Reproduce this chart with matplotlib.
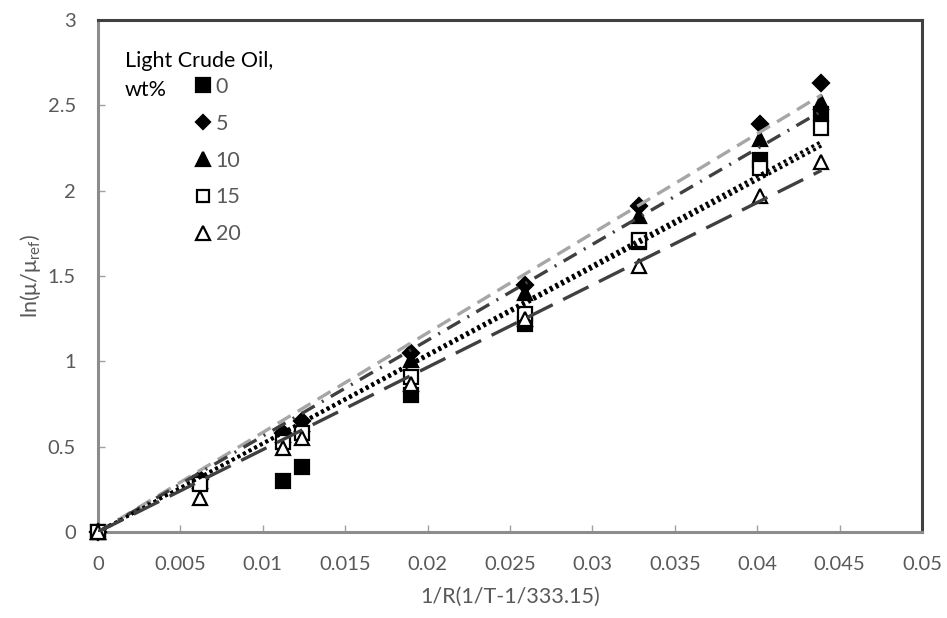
import numpy as np
import matplotlib
matplotlib.use("Agg")
import matplotlib.pyplot as plt
from matplotlib.lines import Line2D

plt.rcParams['font.family'] = ['Lato', 'DejaVu Sans']
plt.rcParams['mathtext.fontset'] = 'custom'
plt.rcParams['mathtext.rm'] = 'Lato'

# x = 1/R(1/T-1/333.15)
x_vals = [0, 0.0062, 0.0112, 0.0124, 0.0190, 0.0259, 0.0328, 0.0402, 0.0439]

# ln(mu/mu_ref) for each light crude oil content
oil_0 = [0, 0.29, 0.30, 0.38, 0.80, 1.22, 1.70, 2.18, 2.45]
oil_5 = [0, 0.31, 0.58, 0.65, 1.05, 1.45, 1.91, 2.39, 2.63]
oil_10 = [0, 0.30, 0.57, 0.63, 1.01, 1.40, 1.85, 2.30, 2.52]
oil_15 = [0, 0.28, 0.53, 0.58, 0.91, 1.28, 1.71, 2.13, 2.37]
oil_20 = [0, 0.20, 0.49, 0.55, 0.87, 1.25, 1.56, 1.97, 2.17]

labels = ['0', '5', '10', '15', '20']
series = [oil_0, oil_5, oil_10, oil_15, oil_20]

markers = ['s', 'D', '^', 's', '^']
face = ['black', 'black', 'black', 'white', 'white']
msize = [10, 8, 10, 9.5, 10]
trend_color = ['black', '#a6a6a6', '#404040', 'black', '#404040']
trend_style = [(0, (0.9, 1.0)), (0, (4.5, 2.5)), (0, (4.5, 2.5, 0.6, 2.5)),
               (0, (0.9, 1.0)), (0, (8.5, 3.5))]

fig = plt.figure(figsize=(9.47, 6.18), dpi=100)
ax = fig.add_axes([98 / 947, 1 - 532 / 618, 824 / 947, 512 / 618])

x = np.array(x_vals)
handles = []
for ys, lab, m, fc, ms, tc, ts in zip(series, labels, markers, face, msize,
                                       trend_color, trend_style):
    y = np.array(ys)
    h, = ax.plot(x, y, linestyle='none', marker=m, markersize=ms,
                 markerfacecolor=fc, markeredgecolor='black',
                 markeredgewidth=1.6, clip_on=False, zorder=3, label=lab)
    handles.append(h)
    # linear trendline forced through origin
    slope = np.sum(x * y) / np.sum(x * x)
    xt = np.array([0, x.max()])
    ax.plot(xt, slope * xt, color=tc, linestyle=ts, linewidth=2.4,
            zorder=4)

ax.set_xlim(0, 0.05)
ax.set_ylim(0, 3)
ax.set_xticks(np.arange(0, 0.0501, 0.005))
ax.set_yticks(np.arange(0, 3.01, 0.5))
ax.set_xticklabels([f'{v:g}' for v in np.round(np.arange(0, 0.0501, 0.005), 3)])
ax.set_yticklabels([f'{v:g}' for v in np.arange(0, 3.01, 0.5)])
ax.tick_params(direction='in', length=5, width=1, color='#a0a0a0',
               labelsize=14.5, labelcolor='#595959')
ax.tick_params(axis='x', pad=17)
ax.tick_params(axis='y', pad=16)

for side in ['top', 'right']:
    ax.spines[side].set_color('#404040')
    ax.spines[side].set_linewidth(2.2)
for side in ['left', 'bottom']:
    ax.spines[side].set_color('#8c8c8c')
    ax.spines[side].set_linewidth(2.2)

ax.set_xlabel('1/R(1/T-1/333.15)', fontsize=15.5, color='#595959', labelpad=10)
ax.set_ylabel(r'ln(μ/μ$_{\mathregular{ref}}$)', fontsize=15.5,
              color='#595959', labelpad=3)

# legend with a two-line title beside the first entry
ax.text(27 / 824, 1 - 41 / 512, 'Light Crude Oil,', transform=ax.transAxes,
        fontsize=15.5, color='black', va='center', ha='left')
ax.text(27 / 824, 1 - 70 / 512, 'wt%', transform=ax.transAxes,
        fontsize=15.5, color='black', va='center', ha='left')
leg_handles = [Line2D([], [], linestyle='none', marker=h.get_marker(),
                      markersize=h.get_markersize() * 0.95,
                      markerfacecolor=h.get_markerfacecolor(),
                      markeredgecolor='black', markeredgewidth=1.6)
               for h in handles]
ax.legend(leg_handles, labels, loc='upper left',
          bbox_to_anchor=(96 / 824, 1 - 57 / 512), frameon=False,
          fontsize=15.5, labelcolor='#595959', handlelength=0.8,
          handletextpad=0.2, labelspacing=0.78, borderaxespad=0,
          borderpad=0)

fig.savefig('out.png', dpi=100)
